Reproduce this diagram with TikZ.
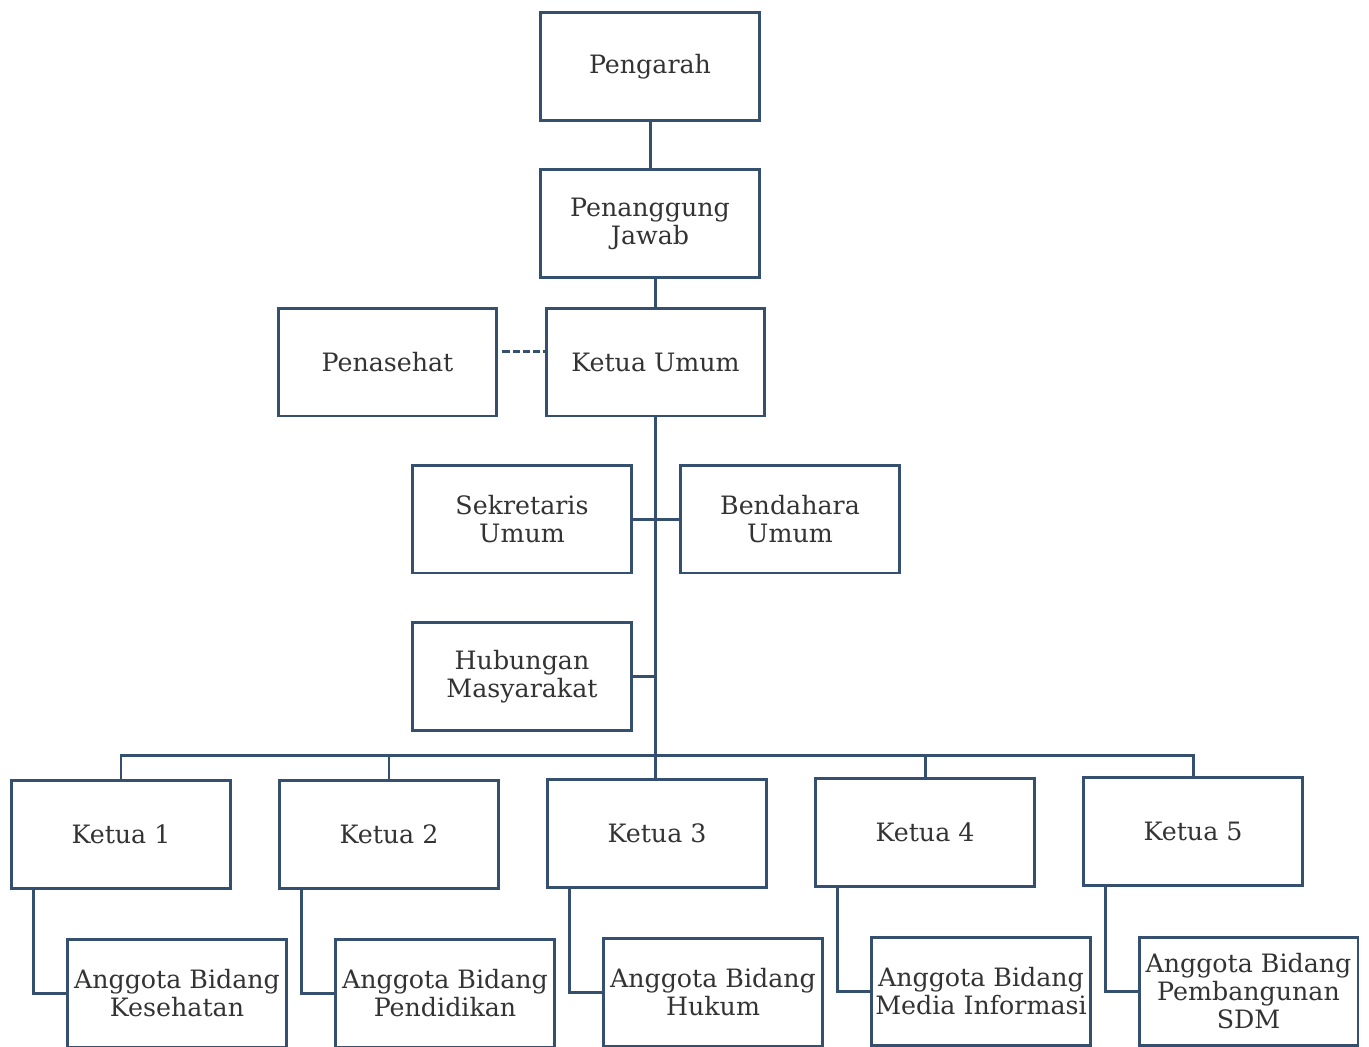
\documentclass[tikz,border=0pt]{standalone}
\usepackage{fontspec}
\setmainfont{DejaVu Serif}
\definecolor{boxline}{HTML}{34506E}
\definecolor{boxtext}{HTML}{333333}
\tikzset{
  unit/.style={draw=boxline, line width=1.7pt, minimum width=4.38cm, minimum height=2.16cm,
    align=center, text=boxtext, inner sep=2pt, font=\fontsize{14.4}{16}\selectfont},
  link/.style={draw=boxline, line width=1.7pt},
}
\begin{document}
\begin{tikzpicture}[x=0.02cm, y=-0.02cm]
\clip (0,0) rectangle (1369,1046); %page frame

% top of the chart
\node[unit] (pengarah) at (650,66.5) {Pengarah};
\node[unit] (pj) at (650,223.5) {Penanggung\\Jawab};
\node[unit] (ketum) at (655.5,362) {Ketua Umum};
\node[unit] (penasehat) at (387.5,362) {Penasehat};

% staff
\node[unit] (sekum) at (522,519) {Sekretaris\\Umum};
\node[unit] (bendum) at (790,519) {Bendahara\\Umum};
\node[unit] (humas) at (522,676.5) {Hubungan\\Masyarakat};

% ketua row
\node[unit] (k1) at (121,834.5) {Ketua 1};
\node[unit] (k2) at (389,834.5) {Ketua 2};
\node[unit] (k3) at (657,833.5) {Ketua 3};
\node[unit] (k4) at (925,832.5) {Ketua 4};
\node[unit] (k5) at (1193,831.5) {Ketua 5};

% anggota row
\node[unit] (a1) at (177,993) {Anggota Bidang\\Kesehatan};
\node[unit] (a2) at (445,993) {Anggota Bidang\\Pendidikan};
\node[unit] (a3) at (713,992) {Anggota Bidang\\Hukum};
\node[unit] (a4) at (981,991) {Anggota Bidang\\Media Informasi};
\node[unit] (a5) at (1248.5,991) {Anggota Bidang\\Pembangunan\\SDM};

\coordinate (bus) at (655.5,755); % horizontal bus

% lines
\draw[link] (pengarah) -- (pj);
\draw[link] (ketum.north) -- (ketum.north |- pj.south);
\draw[link, dash pattern=on 4pt off 1.8pt] ([xshift=0.08cm, yshift=0.22cm]penasehat.east) -- ([yshift=0.22cm]ketum.west); % penasehat
\draw[link] (ketum.south) -- (bus);
\draw[link] (bus) -- (bus |- k3.north);
\draw[link] (sekum) -- (bendum);
\draw[link] (humas.east) -- (humas.east -| ketum.south);
\draw[link] (k1.north) |- (bus) -| (k5.north);
\draw[link] (k2.north) -- (k2.north |- bus);
\draw[link] (k4.north) -- (k4.north |- bus);

% ketua to anggota
\draw[link] ([xshift=0.46cm]k1.south west) |- (a1.west);
\draw[link] ([xshift=0.46cm]k2.south west) |- (a2.west);
\draw[link] ([xshift=0.46cm]k3.south west) |- (a3.west);
\draw[link] ([xshift=0.46cm]k4.south west) |- (a4.west);
\draw[link] ([xshift=0.46cm]k5.south west) |- (a5.west);

\end{tikzpicture}
\end{document}
